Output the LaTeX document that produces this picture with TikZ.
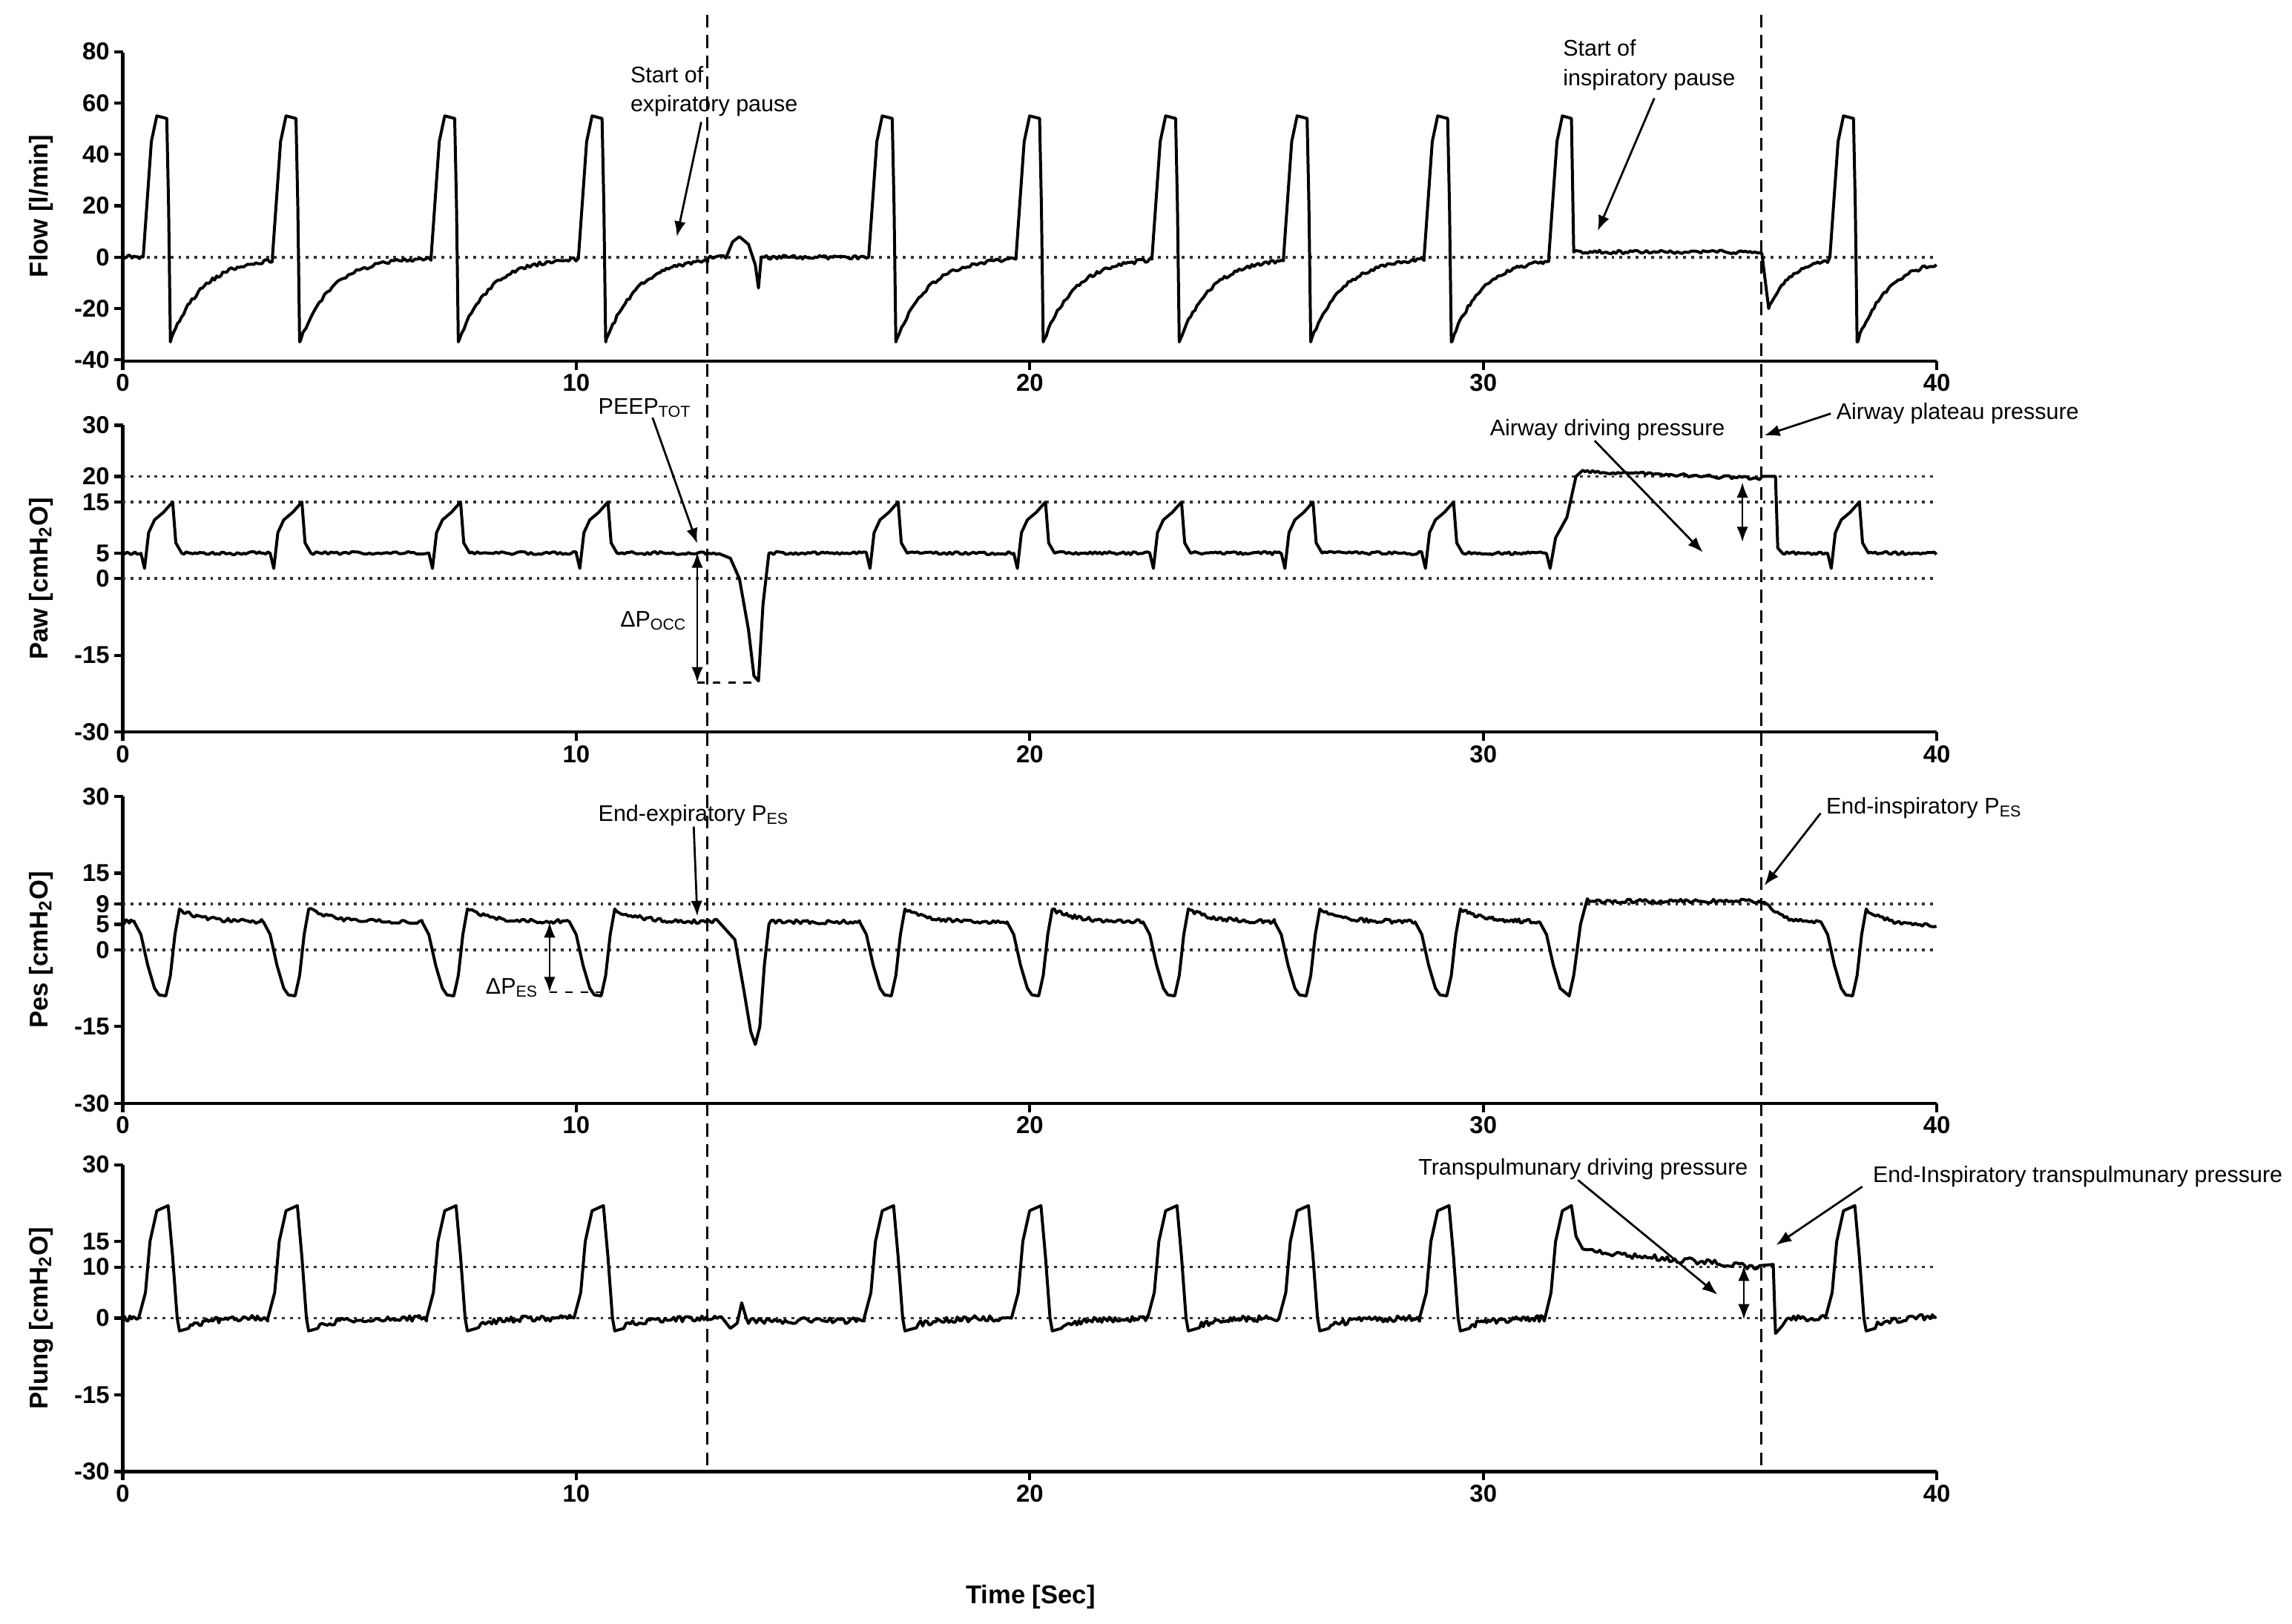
\documentclass[tikz,border=0pt]{standalone}
\usepackage{fontspec}
\setmainfont{Liberation Sans}
\usetikzlibrary{arrows.meta}
\begin{document}
\begin{tikzpicture}[x=0.02cm,y=-0.02cm,
  trace/.style={line width=1.15pt,line join=round},
  axis/.style={line width=1.2pt},
  refl/.style={dotted,line width=1.1pt,black!80},
  tick/.style={font=\bfseries\fontsize{9.5}{10}\selectfont,inner sep=1pt},
  ylab/.style={font=\bfseries\fontsize{10}{11}\selectfont,rotate=90},
  ann/.style={font=\fontsize{8.8}{11.3}\selectfont,inner sep=0pt,align=left},
  arr/.style={-{Latex[length=6pt,width=4.5pt]},line width=0.8pt},
  darr/.style={{Latex[length=6pt,width=4.5pt]}-{Latex[length=6pt,width=4.5pt]},line width=0.8pt},
  vdash/.style={dashed,line width=0.9pt,dash pattern=on 5pt off 3pt}]
\useasboundingbox (0,0) rectangle (1568,1111);
\pgfmathsetseed{7}
% ---------- axes ----------
\foreach \top/\bot in {36/247,291/501,545/755,797/1007}{
  \draw[axis] (84,\top) -- (84,\bot+5);
  \draw[axis] (84,\bot) -- (1325,\bot);
  \foreach \t [count=\i from 0] in {0,10,20,30,40}{
    \draw[axis] (84+310.25*\i,\bot) -- (84+310.25*\i,\bot+6);
    \node[tick,anchor=north] at (84+310.25*\i,\bot+7) {\t};}
}
\node[ylab] (yl1) at (28,141) {Flow [l/min]};
\node[ylab] (yl2) at (28,396) {Paw [cmH\textsubscript{2}O]};
\node[ylab] (yl3) at (28,650) {Pes [cmH\textsubscript{2}O]};
\node[ylab] (yl4) at (28,902) {Plung [cmH\textsubscript{2}O]};
\foreach \v in {80,60,40,20,0,-20,-40}{
  \draw[axis] (78,176-1.758*\v) -- (84,176-1.758*\v);
  \node[tick,anchor=east] at (77,176-1.758*\v) {\v};}
\foreach \v in {30,20,15,5,0,-15,-30}{
  \draw[axis] (78,396-3.5*\v) -- (84,396-3.5*\v);
  \node[tick,anchor=east] at (77,396-3.5*\v) {\v};}
\foreach \v in {30,15,9,5,0,-15,-30}{
  \draw[axis] (78,650-3.5*\v) -- (84,650-3.5*\v);
  \node[tick,anchor=east] at (77,650-3.5*\v) {\v};}
\foreach \v in {30,15,10,0,-15,-30}{
  \draw[axis] (78,902-3.5*\v) -- (84,902-3.5*\v);
  \node[tick,anchor=east] at (77,902-3.5*\v) {\v};}
\node[font=\bfseries\fontsize{10}{11}\selectfont] (tl) at (705,1093) {Time [Sec]};
\foreach \yy in {176,326,343.5,396,618.5,650,867,902}{\draw[refl] (84,\yy) -- (1325,\yy);}
% ---------- Flow ----------
\begin{scope}[shift={(84,176)},x=0.6205cm,y=0.03517cm]
\draw[trace] plot[domain=0:0.45,samples=12] (\x,{0.8*rand})
 foreach \s/\n in {0.45/3.3,3.3/6.8,6.8/10.05,10.05/12.9}{ -- (\s,0) -- (\s+0.08,20) -- (\s+0.18,45) -- (\s+0.3,55) -- (\s+0.52,54) -- (\s+0.56,20) -- (\s+0.6,-33) -- plot[domain=\s+0.62:\n,samples=50] (\x,{-33*exp(-(\x-\s-0.6)/0.7)+0.7*rand}) }
 -- plot[domain=12.9:13.3,samples=8] (\x,{0.7*rand}) -- (13.45,6) -- (13.6,8) -- (13.8,5) -- (13.95,-3) -- (14.02,-12) -- (14.08,0) -- plot[domain=14.1:16.4,samples=50] (\x,{0.8*rand})
 foreach \s/\n in {16.45/19.7,19.7/22.7,22.7/25.6,25.6/28.7,28.7/31.45}{ -- (\s,0) -- (\s+0.08,20) -- (\s+0.18,45) -- (\s+0.3,55) -- (\s+0.52,54) -- (\s+0.56,20) -- (\s+0.6,-33) -- plot[domain=\s+0.62:\n,samples=50] (\x,{-33*exp(-(\x-\s-0.6)/0.7)+0.7*rand}) }
 -- (31.45,0) -- (31.53,20) -- (31.63,45) -- (31.75,55) -- (31.95,54) -- (32.0,2) -- plot[domain=32.05:36.15,samples=80] (\x,{2+0.7*rand}) -- (36.3,-20) -- plot[domain=36.32:37.6,samples=30] (\x,{-20*exp(-(\x-36.3)/0.5)+0.6*rand})
 foreach \s/\n in {37.65/40}{ -- (\s,0) -- (\s+0.08,20) -- (\s+0.18,45) -- (\s+0.3,55) -- (\s+0.52,54) -- (\s+0.56,20) -- (\s+0.6,-33) -- plot[domain=\s+0.62:\n,samples=40] (\x,{-33*exp(-(\x-\s-0.6)/0.7)+0.7*rand}) };
\end{scope}
% ---------- Paw ----------
\begin{scope}[shift={(84,396)},x=0.6205cm,y=0.07cm]
\draw[trace] plot[domain=0:0.4,samples=10] (\x,{5+0.3*rand})
 foreach \s/\n in {0.45/3.3,3.3/6.8,6.8/10.05,10.05/13.2}{ -- (\s-0.05,5) -- (\s+0.03,2) -- (\s+0.12,9) -- (\s+0.25,11.5) -- (\s+0.45,13) -- (\s+0.65,15) -- (\s+0.72,7) -- (\s+0.85,5) -- plot[domain=\s+0.9:\n-0.05,samples=40] (\x,{5+0.3*rand}) }
 -- (13.4,4) -- (13.6,0) -- (13.8,-10) -- (13.92,-19) -- (14.02,-20) -- (14.12,-5) -- (14.25,5) -- plot[domain=14.3:16.4,samples=40] (\x,{5+0.3*rand})
 foreach \s/\n in {16.45/19.7,19.7/22.7,22.7/25.6,25.6/28.7,28.7/31.45}{ -- (\s-0.05,5) -- (\s+0.03,2) -- (\s+0.12,9) -- (\s+0.25,11.5) -- (\s+0.45,13) -- (\s+0.65,15) -- (\s+0.72,7) -- (\s+0.85,5) -- plot[domain=\s+0.9:\n-0.05,samples=40] (\x,{5+0.3*rand}) }
 -- (31.48,2) -- (31.6,8) -- (31.85,12) -- (32.05,20) -- (32.2,21.2) -- plot[domain=32.25:36.1,samples=70] (\x,{21-1.4*(\x-32.25)/3.85+0.3*rand}) -- (36.15,20) -- (36.45,20) -- (36.5,6) -- (36.6,5) -- plot[domain=36.65:37.6,samples=20] (\x,{5+0.3*rand})
 foreach \s/\n in {37.65/40.05}{ -- (\s-0.05,5) -- (\s+0.03,2) -- (\s+0.12,9) -- (\s+0.25,11.5) -- (\s+0.45,13) -- (\s+0.65,15) -- (\s+0.72,7) -- (\s+0.85,5) -- plot[domain=\s+0.9:\n-0.05,samples=30] (\x,{5+0.3*rand}) };
\end{scope}
% ---------- Pes ----------
\begin{scope}[shift={(84,650)},x=0.6205cm,y=0.07cm]
\draw[trace] plot[domain=0:0.25,samples=8] (\x,{5.5+0.4*rand})
 foreach \s/\n in {0.45/3.3,3.3/6.8,6.8/10.05,10.05/13.3}{ -- (\s-0.2,5.5) -- (\s-0.05,3) -- (\s+0.1,-3) -- (\s+0.25,-7.5) -- (\s+0.35,-8.8) -- (\s+0.5,-9) -- (\s+0.6,-5) -- (\s+0.7,3) -- (\s+0.8,8) -- plot[domain=\s+0.85:\n-0.2,samples=45] (\x,{5.5+2.5*exp(-(\x-\s-0.8)/0.5)+0.4*rand}) }
 -- (13.5,2) -- (13.7,-8) -- (13.85,-16) -- (13.95,-18.5) -- (14.05,-15) -- (14.15,-3) -- (14.25,5) -- plot[domain=14.3:16.25,samples=40] (\x,{5.5+0.4*rand})
 foreach \s/\n in {16.45/19.7,19.7/22.7,22.7/25.6,25.6/28.7,28.7/31.45}{ -- (\s-0.2,5.5) -- (\s-0.05,3) -- (\s+0.1,-3) -- (\s+0.25,-7.5) -- (\s+0.35,-8.8) -- (\s+0.5,-9) -- (\s+0.6,-5) -- (\s+0.7,3) -- (\s+0.8,8) -- plot[domain=\s+0.85:\n-0.2,samples=45] (\x,{5.5+2.5*exp(-(\x-\s-0.8)/0.5)+0.4*rand}) }
 -- (31.4,3) -- (31.55,-3) -- (31.7,-7.5) -- (31.9,-9) -- (32.0,-5) -- (32.15,5) -- (32.3,10) -- plot[domain=32.35:36.2,samples=70] (\x,{9.5+0.4*rand}) -- plot[domain=36.25:37.45,samples=25] (\x,{5.5+4*exp(-(\x-36.2)/0.3)+0.4*rand})
 foreach \s/\n in {37.65/40.2}{ -- (\s-0.2,5.5) -- (\s-0.05,3) -- (\s+0.1,-3) -- (\s+0.25,-7.5) -- (\s+0.35,-8.8) -- (\s+0.5,-9) -- (\s+0.6,-5) -- (\s+0.7,3) -- (\s+0.8,8) -- plot[domain=\s+0.85:\n-0.2,samples=30] (\x,{4.5+3.5*exp(-(\x-\s-0.8)/0.5)+0.4*rand}) };
\end{scope}
% ---------- Plung ----------
\begin{scope}[shift={(84,902)},x=0.6205cm,y=0.07cm]
\draw[trace] plot[domain=0:0.35,samples=10] (\x,{0.6*rand})
 foreach \s/\n in {0.45/3.3,3.3/6.8,6.8/10.05,10.05/13.3}{ -- (\s-0.1,0) -- (\s+0.05,5) -- (\s+0.15,15) -- (\s+0.3,21) -- (\s+0.55,22) -- (\s+0.65,12) -- (\s+0.75,0) -- (\s+0.8,-2.5) -- (\s+1.0,-2) -- plot[domain=\s+1.05:\n-0.1,samples=45] (\x,{-1.5*exp(-(\x-\s-1)/0.5)+0.6*rand}) }
 -- (13.4,-2) -- (13.55,-1) -- (13.65,3) -- (13.75,0) -- plot[domain=13.8:16.35,samples=45] (\x,{-0.5+0.6*rand})
 foreach \s/\n in {16.45/19.7,19.7/22.7,22.7/25.6,25.6/28.7,28.7/31.45}{ -- (\s-0.1,0) -- (\s+0.05,5) -- (\s+0.15,15) -- (\s+0.3,21) -- (\s+0.55,22) -- (\s+0.65,12) -- (\s+0.75,0) -- (\s+0.8,-2.5) -- (\s+1.0,-2) -- plot[domain=\s+1.05:\n-0.1,samples=45] (\x,{-1.5*exp(-(\x-\s-1)/0.5)+0.6*rand}) }
 -- (31.5,5) -- (31.6,15) -- (31.75,21) -- (31.95,22) -- (32.05,16) -- (32.2,13.5) -- plot[domain=32.3:36.1,samples=70] (\x,{13-3*(\x-32.3)/3.8+0.6*rand}) -- (36.4,10.5) -- (36.45,-3) -- (36.6,-1.5) -- plot[domain=36.7:37.55,samples=18] (\x,{0.6*rand})
 foreach \s/\n in {37.65/40.1}{ -- (\s-0.1,0) -- (\s+0.05,5) -- (\s+0.15,15) -- (\s+0.3,21) -- (\s+0.55,22) -- (\s+0.65,12) -- (\s+0.75,0) -- (\s+0.8,-2.5) -- (\s+1.0,-2) -- plot[domain=\s+1.05:\n-0.1,samples=30] (\x,{0.3-1.5*exp(-(\x-\s-1)/0.5)+0.6*rand}) };
\end{scope}
% ---------- vertical dashed lines ----------
\coordinate (v1t) at (484,10); \coordinate (v1b) at (484,1003);
\coordinate (v2t) at (1205,10); \coordinate (v2b) at (1205,1003);
\draw[vdash] (v1t) -- (v1b);
\draw[vdash] (v2t) -- (v2b);
% ---------- annotations ----------
\node[ann,anchor=north west] (sep) at (431,45) {Start of\\expiratory pause};
\coordinate (sepT) at (463,162);
\draw[arr] ([xshift=-5pt,yshift=-2pt]sep.south) -- (sepT);
\node[ann,anchor=north west] (sip) at (1069,27) {Start of\\inspiratory pause};
\coordinate (sipT) at (1093,158);
\draw[arr] ([xshift=2pt,yshift=-3pt]sip.south) -- (sipT);
\node[ann,anchor=west] (peep) at (409,279) {PEEP\textsubscript{TOT}};
\coordinate (peepT) at (477,372);
\draw[arr] ([xshift=3pt]peep.south) -- (peepT);
\node[ann,anchor=west] (adp) at (1019,294) {Airway driving pressure};
\coordinate (adpT) at (1165,378);
\draw[arr] ([xshift=-5pt]adp.south) -- (adpT);
\node[ann,anchor=west] (app) at (1256,283) {Airway plateau pressure};
\coordinate (appT) at (1207,298);
\draw[arr] ([xshift=-2pt]app.west) -- (appT);
\node[ann,anchor=west] (eep) at (409,558) {End-expiratory P\textsubscript{ES}};
\coordinate (eepT) at (477,627);
\draw[arr] ([xshift=0pt]eep.south) -- (eepT);
\node[ann,anchor=west] (eip) at (1249,553) {End-inspiratory P\textsubscript{ES}};
\coordinate (eipT) at (1207,606);
\draw[arr] ([xshift=-2pt,yshift=-2pt]eip.west) -- (eipT);
\node[ann,anchor=west] (tdp) at (970,800) {Transpulmunary driving pressure};
\coordinate (tdpT) at (1175,886);
\draw[arr] ([xshift=-2pt]tdp.south) -- (tdpT);
\node[ann,anchor=west] (eitp) at (1281,805) {End-Inspiratory transpulmunary pressure};
\coordinate (eitpT) at (1215,852);
\draw[arr] ([xshift=-4pt,yshift=-4pt]eitp.west) -- (eitpT);
\coordinate (po1) at (477,378); \coordinate (po2) at (477,467); \coordinate (po3) at (517,467);
\draw[darr] (po1) -- (po2);
\draw[dashed,line width=0.8pt] (po2) -- (po3);
\node[ann,anchor=west] (dpocc) at (424,425) {ΔP\textsubscript{OCC}};
\coordinate (pe1) at (376,631); \coordinate (pe2) at (376,679); \coordinate (pe3) at (414,679);
\draw[darr] (pe1) -- (pe2);
\draw[dashed,line width=0.8pt] (pe2) -- (pe3);
\node[ann,anchor=west] (dpes) at (332,676) {ΔP\textsubscript{ES}};
\coordinate (pa1) at (1192,330); \coordinate (pa2) at (1192,371);
\draw[darr] (pa1) -- (pa2);
\coordinate (pl1) at (1193,866); \coordinate (pl2) at (1193,903);
\draw[darr] (pl1) -- (pl2);
\end{tikzpicture}
\end{document}
